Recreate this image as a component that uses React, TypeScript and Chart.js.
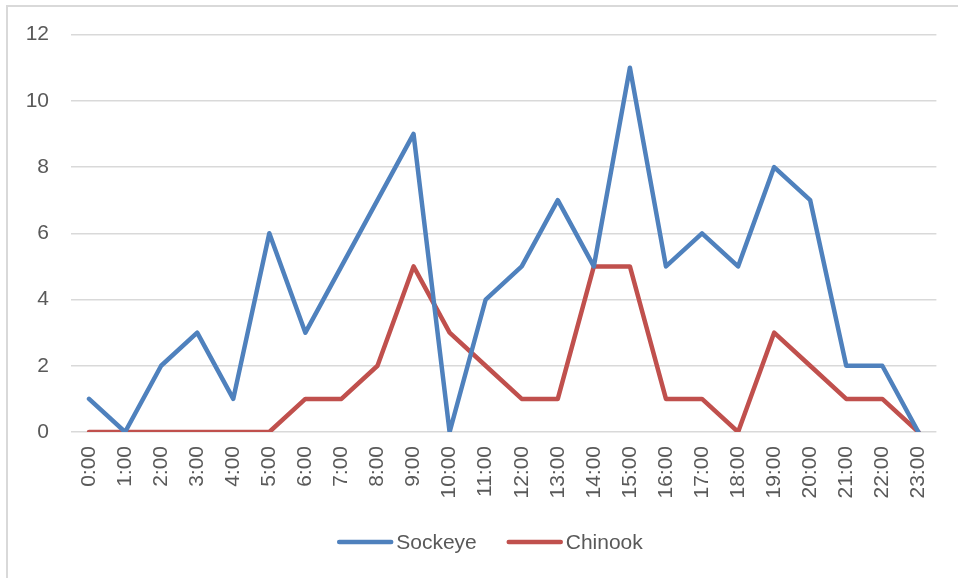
import React, { useEffect, useRef } from "react";
import { Chart, registerables } from "chart.js";

Chart.register(...registerables);

const hours = [
  "0:00", "1:00", "2:00", "3:00", "4:00", "5:00", "6:00", "7:00", "8:00", "9:00", "10:00", "11:00",
  "12:00", "13:00", "14:00", "15:00", "16:00", "17:00", "18:00", "19:00", "20:00", "21:00", "22:00", "23:00",
];
const sockeye = [1, 0, 2, 3, 1, 6, 3, 5, 7, 9, 0, 4, 5, 7, 5, 11, 5, 6, 5, 8, 7, 2, 2, 0];
const chinook = [0, 0, 0, 0, 0, 0, 1, 1, 2, 5, 3, 2, 1, 1, 5, 5, 1, 1, 0, 3, 2, 1, 1, 0];
const seriesNames = ["Sockeye", "Chinook"];
const seriesColors = ["#4f81bd", "#c0504d"];

const FONT = "'Liberation Sans', Arial, sans-serif";
const TEXT = "#595959";
const GRID = "#d9d9d9";

const legendPlugin = {
  id: "excelLegend",
  afterDraw(chart: any) {
    const ctx = chart.ctx;
    const lineLen = 56;
    const textGap = 3;
    const itemGap = 30;
    const y = 542;
    ctx.save();
    ctx.font = `21px ${FONT}`;
    const items = chart.data.datasets.map((ds: any) => ({
      text: ds.label,
      color: ds.borderColor,
      w: ctx.measureText(ds.label).width,
    }));
    let total = 0;
    items.forEach((it: any, i: number) => {
      total += lineLen + textGap + it.w + (i < items.length - 1 ? itemGap : 0);
    });
    let x = chart.width / 2 + 11 - total / 2;
    items.forEach((it: any) => {
      ctx.strokeStyle = it.color;
      ctx.lineWidth = 4.5;
      ctx.lineCap = "round";
      ctx.beginPath();
      ctx.moveTo(x + 2, y);
      ctx.lineTo(x + lineLen - 2, y);
      ctx.stroke();
      ctx.fillStyle = TEXT;
      ctx.textBaseline = "middle";
      ctx.textAlign = "left";
      ctx.fillText(it.text, x + lineLen + textGap, y + 1);
      x += lineLen + textGap + it.w + itemGap;
    });
    ctx.restore();
  },
};

export default function App() {
  const ref = useRef<HTMLCanvasElement>(null);
  useEffect(() => {
    if (!ref.current) return;
    const chart = new Chart(ref.current, {
      type: "line",
      data: {
        labels: hours,
        datasets: [sockeye, chinook].map((d, i) => ({
          label: seriesNames[i],
          data: d,
          borderColor: seriesColors[i],
          backgroundColor: seriesColors[i],
          borderWidth: 4.5,
          pointRadius: 0,
          tension: 0,
          borderJoinStyle: "round" as const,
          borderCapStyle: "round" as const,
        })),
      },
      options: {
        responsive: false,
        animation: false,
        layout: { padding: { top: 34, right: 21, bottom: 56, left: 0 } },
        plugins: {
          tooltip: { enabled: false },
          legend: { display: false },
        },
        scales: {
          x: {
            offset: true,
            grid: { display: false, drawTicks: false },
            border: { display: false },
            ticks: {
              font: { family: FONT, size: 21 },
              color: TEXT,
              minRotation: 90,
              maxRotation: 90,
              padding: 14,
              autoSkip: false,
            },
            afterFit: (s: any) => {
              s.height = 90;
            },
          },
          y: {
            min: 0,
            max: 12,
            grid: { color: GRID, lineWidth: 1.5, drawTicks: false },
            border: { display: false },
            ticks: {
              stepSize: 2,
              font: { family: FONT, size: 21 },
              color: TEXT,
              padding: 22,
            },
            afterFit: (s: any) => {
              s.width = 71;
            },
          },
        },
      },
      plugins: [legendPlugin],
    });
    return () => chart.destroy();
  }, []);
  return (
    <div style={{ position: "fixed", left: 0, top: 0, width: 958, height: 578, background: "#fff", overflow: "hidden" }}>
      <div
        style={{
          position: "absolute",
          left: 6,
          top: 5,
          width: 1000,
          height: 1000,
          borderLeft: "2px solid #d9d9d9",
          borderTop: "2px solid #d9d9d9",
        }}
      />
      <canvas ref={ref} width={958} height={578} style={{ position: "absolute", left: 0, top: 0 }} />
    </div>
  );
}
